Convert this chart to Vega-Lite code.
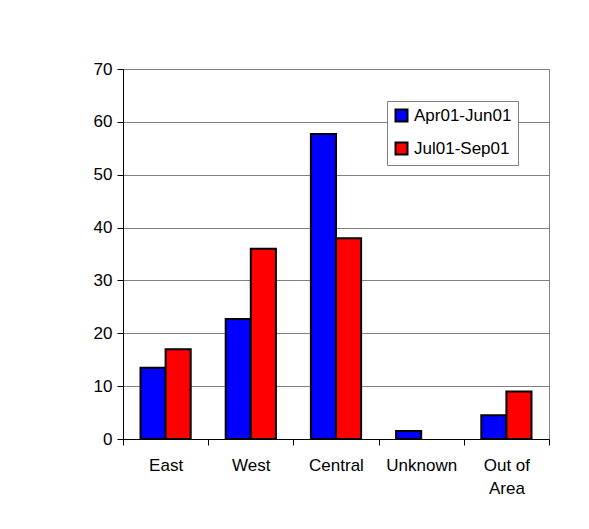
{
  "$schema": "https://vega.github.io/schema/vega-lite/v6.json",
  "autosize": "none",
  "width": 426,
  "height": 370,
  "padding": {"left": 123, "top": 69, "right": 40, "bottom": 90},
  "background": "white",
  "data": {
    "values": [
      {"region": "East", "period": "Apr01-Jun01", "value": 13.5},
      {"region": "East", "period": "Jul01-Sep01", "value": 17},
      {"region": "West", "period": "Apr01-Jun01", "value": 22.7},
      {"region": "West", "period": "Jul01-Sep01", "value": 36},
      {"region": "Central", "period": "Apr01-Jun01", "value": 57.7},
      {"region": "Central", "period": "Jul01-Sep01", "value": 38},
      {"region": "Unknown", "period": "Apr01-Jun01", "value": 1.5},
      {"region": "Out of Area", "period": "Apr01-Jun01", "value": 4.5},
      {"region": "Out of Area", "period": "Jul01-Sep01", "value": 9}
    ]
  },
  "mark": {"type": "bar", "stroke": "black", "strokeWidth": 2, "strokeOpacity": 1},
  "encoding": {
    "x": {
      "field": "region",
      "type": "nominal",
      "sort": ["East", "West", "Central", "Unknown", "Out of Area"],
      "scale": {"paddingInner": 0, "paddingOuter": 0},
      "axis": {
        "title": null,
        "labelAngle": 0,
        "tickBand": "extent",
        "grid": false,
        "domainColor": "black",
        "tickColor": "black",
        "tickSize": 6,
        "labelPadding": 12,
        "labelLineHeight": 23,
        "labelExpr": "datum.value == 'Out of Area' ? ['Out of', 'Area'] : datum.value"
      }
    },
    "xOffset": {
      "field": "period",
      "type": "nominal",
      "scale": {"paddingInner": 0, "paddingOuter": 0.697}
    },
    "y": {
      "field": "value",
      "type": "quantitative",
      "scale": {"domain": [0, 70], "nice": false},
      "axis": {
        "title": null,
        "values": [0, 10, 20, 30, 40, 50, 60, 70],
        "grid": true,
        "gridColor": "#808080",
        "gridOpacity": 1,
        "gridWidth": 1,
        "domainColor": "black",
        "tickColor": "black",
        "tickSize": 6,
        "labelPadding": 5
      }
    },
    "color": {
      "field": "period",
      "type": "nominal",
      "scale": {"domain": ["Apr01-Jun01", "Jul01-Sep01"], "range": ["#0000FF", "#FF0000"]},
      "legend": {
        "title": null,
        "orient": "none",
        "legendX": 264,
        "legendY": 32,
        "padding": 6,
        "strokeColor": "#808080",
        "fillColor": "white",
        "symbolType": "square",
        "symbolSize": 144,
        "symbolStrokeColor": "black",
        "symbolStrokeWidth": 2,
        "symbolOpacity": 1,
        "labelOffset": 4,
        "rowPadding": 12,
        "labelFontSize": 17,
        "labelColor": "black",
        "labelFont": "Liberation Sans"
      }
    }
  },
  "config": {
    "font": "Liberation Sans",
    "view": {"stroke": "#808080", "strokeWidth": 1},
    "axis": {"labelFont": "Liberation Sans", "labelFontSize": 17, "labelColor": "black"}
  }
}
